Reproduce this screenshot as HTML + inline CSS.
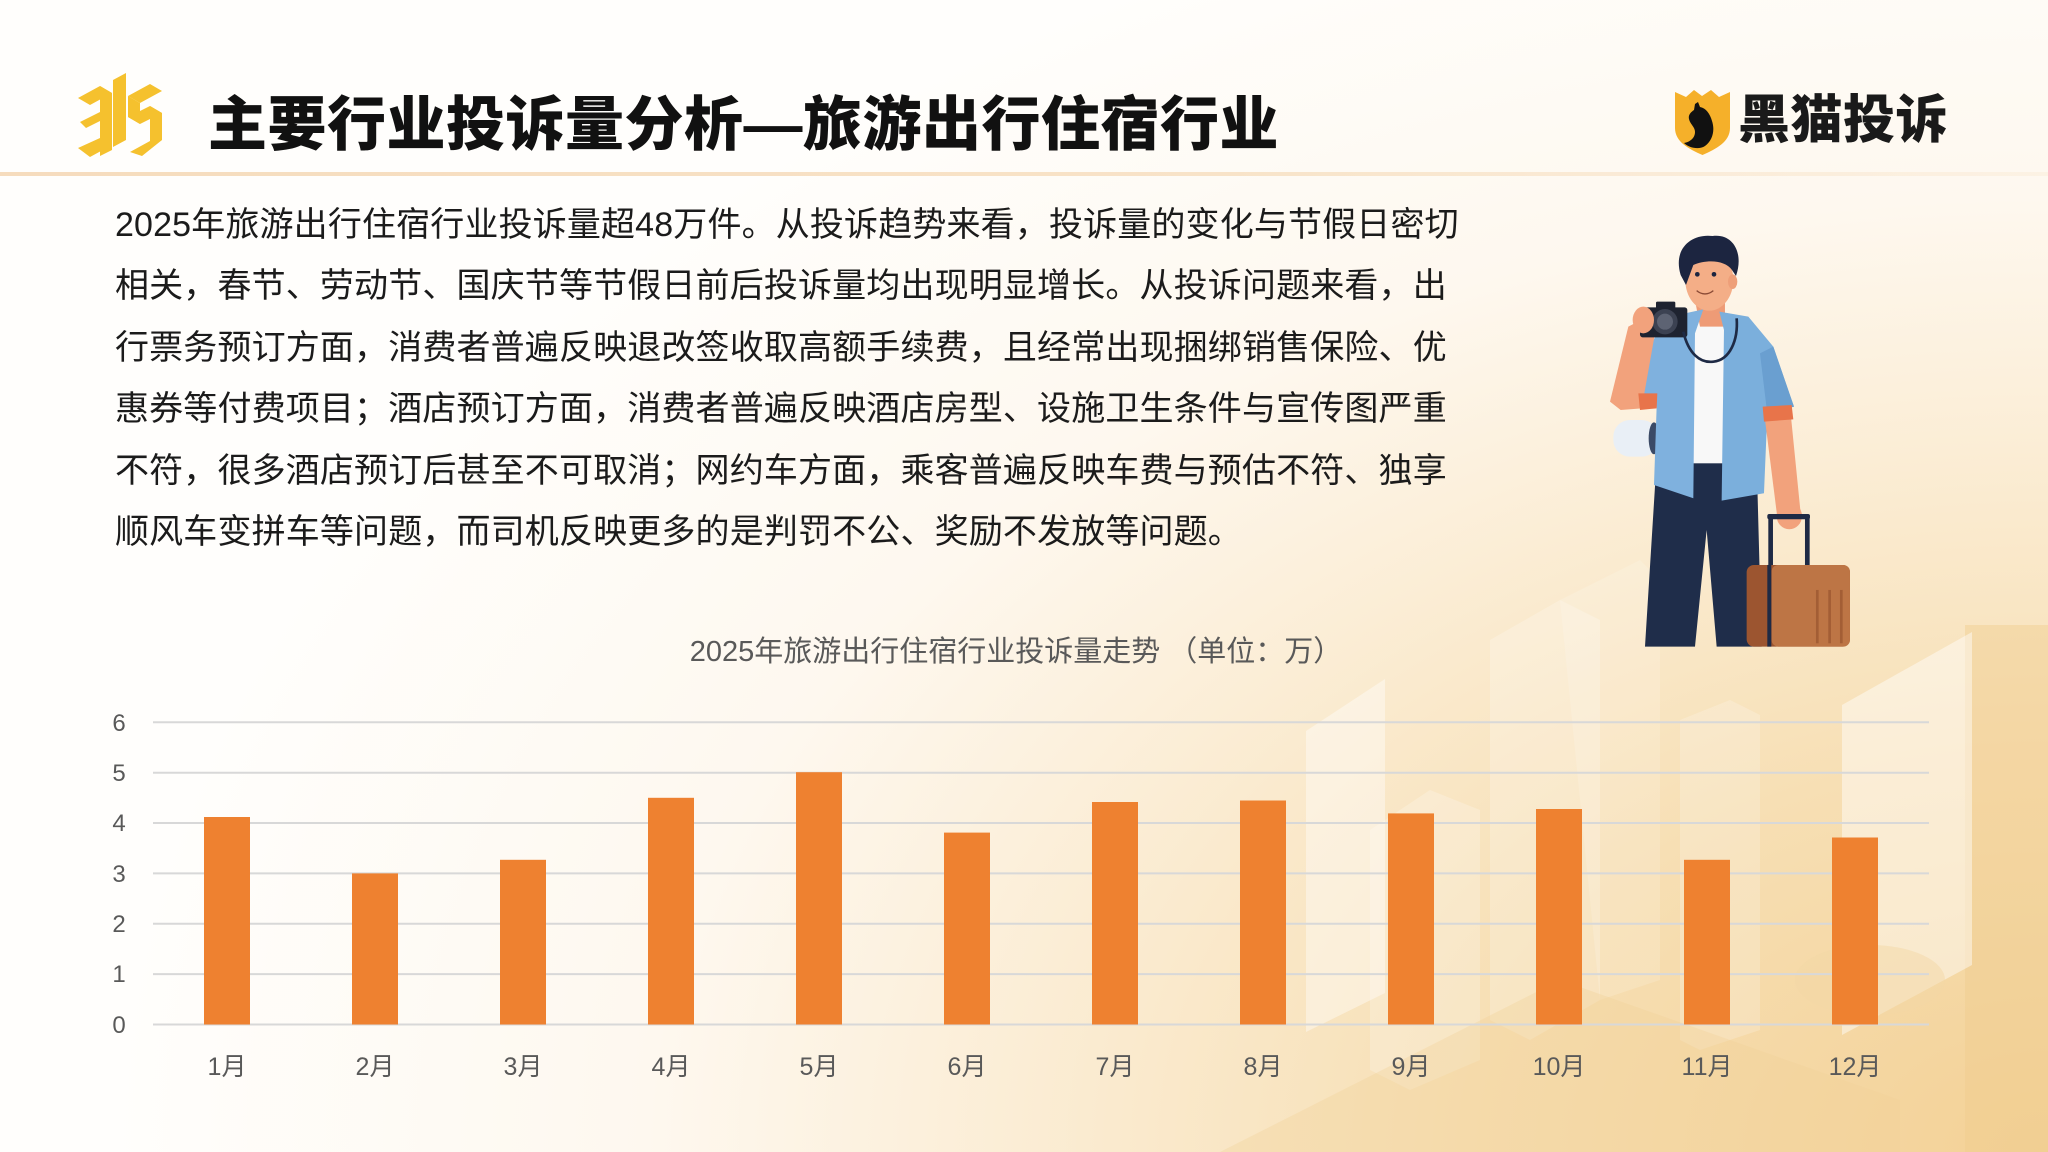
<!DOCTYPE html>
<html><head><meta charset="utf-8">
<style>
*{margin:0;padding:0;box-sizing:border-box}
html,body{width:2048px;height:1152px;overflow:hidden}
body{position:relative;font-family:"Liberation Sans","Noto Sans CJK SC",sans-serif;
background:radial-gradient(ellipse 95% 115% at 100% 100%, #f3d196 0%, #f7dfb4 30%, #fbedd5 53%, #fef8ef 72%, #fffefc 100%);}
.title{position:absolute;left:208px;top:88px;font-family:"Liberation Sans","Noto Sans CJK SC",sans-serif;font-weight:900;font-size:59px;line-height:74px;color:#111;letter-spacing:0.5px;white-space:nowrap}
.sep{position:absolute;left:0;top:172px;width:2048px;height:4px;background:linear-gradient(90deg,#f6dcbd,#f8e3c8 60%,rgba(248,227,200,0.3))}
.brand{position:absolute;left:1738px;top:88px;font-family:"Liberation Sans","Noto Sans CJK SC",sans-serif;font-weight:900;font-size:52px;line-height:66px;color:#1a1a1a;white-space:nowrap;letter-spacing:0.5px}
.para{position:absolute;left:115px;top:195px;font-size:34px;line-height:61.4px;color:#1b1b1b;white-space:nowrap;letter-spacing:0.15px;font-family:"Liberation Sans","Noto Sans CJK SC",sans-serif}
svg{position:absolute;left:0;top:0}
</style></head>
<body>
<svg width="2048" height="1152" viewBox="0 0 2048 1152">
  <!-- decorative background buildings -->
  <g>
    <rect x="1965" y="625" width="83" height="527" fill="#f0cc8e" opacity="0.45"/>
    <polygon points="1842,705 1972,632 1972,965 1842,1035" fill="#ffffff" opacity="0.45"/>
    <polygon points="1306,731 1385,679 1385,993 1306,1032" fill="#ffffff" opacity="0.4"/>
    <polygon points="1490,640 1560,600 1600,620 1600,1000 1530,1040 1490,1020" fill="#ffffff" opacity="0.22"/>
    <polygon points="1560,600 1640,560 1660,580 1660,980 1600,1000" fill="#ffffff" opacity="0.15"/>
    <polygon points="1370,830 1430,790 1480,810 1480,1060 1410,1090 1370,1070" fill="#ffffff" opacity="0.22"/>
    <polygon points="1680,720 1730,700 1760,715 1760,1030 1700,1050 1680,1040" fill="#ffffff" opacity="0.2"/>
    <polygon points="1220,1152 1560,980 1900,1100 1900,1152" fill="#f2d299" opacity="0.35"/>
    <ellipse cx="1870" cy="980" rx="75" ry="35" fill="#f3d7a6" opacity="0.5"/>
  </g>

  <!-- 315 logo -->
  <g fill="#f5c12e">
    <!-- 3 -->
    <polygon points="78,98 100,86 112,93 90,105"/>
    <polygon points="100,86 112,93 112,150 100,156"/>
    <polygon points="80,122 100,112 106,118 86,128"/>
    <polygon points="78,148 100,138 112,145 90,157"/>
    <!-- 1 -->
    <polygon points="113,80 126,73 126,140 113,147"/>
    <!-- 5 -->
    <polygon points="128,96 150,84 162,91 140,103"/>
    <polygon points="128,96 140,103 140,124 128,117"/>
    <polygon points="128,117 150,106 162,113 140,124"/>
    <polygon points="150,106 162,113 162,140 150,146"/>
    <polygon points="130,152 150,141 162,140 142,156"/>
  </g>

  <!-- black cat shield -->
  <g transform="translate(1675,88)">
    <path d="M0,4 L11,9 L19,2 L27,8 L36,2 L44,9 L55,4 L55,40 C55,54 41,61 27.5,67 C14,61 0,54 0,40 Z" fill="#f5b02a"/>
    <path d="M23,14 L25,19 C31,20 35,26 37,33 C40,42 38,52 30,58 C24,62 14,60 9,55 C15,54 20,50 20,44 C20,39 15,36 14,31 C13,27 16,24 19,22 L20,16 Z" fill="#111"/>
  </g>

  <!-- chart gridlines -->
  <g stroke="#d8d8d8" stroke-width="2">
    <line x1="153" y1="722.3" x2="1929" y2="722.3"/>
    <line x1="153" y1="772.7" x2="1929" y2="772.7"/>
    <line x1="153" y1="823.0" x2="1929" y2="823.0"/>
    <line x1="153" y1="873.4" x2="1929" y2="873.4"/>
    <line x1="153" y1="923.8" x2="1929" y2="923.8"/>
    <line x1="153" y1="974.1" x2="1929" y2="974.1"/>
    <line x1="153" y1="1024.5" x2="1929" y2="1024.5"/>
  </g>

  <!-- bars -->
  <g fill="#ee8130">
    <rect x="204" y="817.0" width="46" height="207.5"/>
    <rect x="352" y="873.4" width="46" height="151.1"/>
    <rect x="500" y="859.8" width="46" height="164.7"/>
    <rect x="648" y="797.8" width="46" height="226.7"/>
    <rect x="796" y="772.2" width="46" height="252.3"/>
    <rect x="944" y="832.6" width="46" height="191.9"/>
    <rect x="1092" y="802.0" width="46" height="222.5"/>
    <rect x="1240" y="800.5" width="46" height="224.0"/>
    <rect x="1388" y="813.4" width="46" height="211.1"/>
    <rect x="1536" y="809.0" width="46" height="215.5"/>
    <rect x="1684" y="859.8" width="46" height="164.7"/>
    <rect x="1832" y="837.5" width="46" height="187.0"/>
  </g>

  <!-- chart text -->
  <g font-family="Liberation Sans, Noto Sans CJK SC, sans-serif" fill="#595959">
    <text x="1016" y="661" font-size="29" text-anchor="middle">2025年旅游出行住宿行业投诉量走势 （单位：万）</text>
    <g font-size="24" text-anchor="middle">
      <text x="119" y="731">6</text>
      <text x="119" y="781">5</text>
      <text x="119" y="831">4</text>
      <text x="119" y="882">3</text>
      <text x="119" y="932">2</text>
      <text x="119" y="982">1</text>
      <text x="119" y="1033">0</text>
    </g>
    <g font-size="25" text-anchor="middle">
      <text x="227" y="1075">1月</text>
      <text x="375" y="1075">2月</text>
      <text x="523" y="1075">3月</text>
      <text x="671" y="1075">4月</text>
      <text x="819" y="1075">5月</text>
      <text x="967" y="1075">6月</text>
      <text x="1115" y="1075">7月</text>
      <text x="1263" y="1075">8月</text>
      <text x="1411" y="1075">9月</text>
      <text x="1559" y="1075">10月</text>
      <text x="1707" y="1075">11月</text>
      <text x="1855" y="1075">12月</text>
    </g>
  </g>

  <!-- traveler illustration -->
  <g transform="translate(1560,220) scale(0.3333)">
    <rect x="160" y="600" width="135" height="110" rx="50" fill="#e9eff6"/>
    <ellipse cx="282" cy="655" rx="16" ry="48" fill="#3b4a66"/>
    <polygon points="290,720 590,720 605,1280 470,1280 440,930 405,1280 255,1280" fill="#1f2d4a"/>
    <rect x="385" y="310" width="110" height="420" fill="#f8f8f8"/>
    <polygon points="405,240 495,240 495,320 420,320" fill="#ee9b76"/>
    <polygon points="330,290 430,268 405,340 400,835 282,795 290,560 245,560 252,420 300,320" fill="#7fb1de"/>
    <polygon points="478,275 565,290 640,380 702,560 622,582 612,820 485,842 492,330" fill="#7bafdc"/>
    <polygon points="600,400 640,380 702,560 622,582" fill="#6a9fd0"/>
    <polygon points="182,570 150,545 205,320 262,290 285,340 245,565" fill="#f2a27c"/>
    <polygon points="235,520 292,520 290,565 240,570" fill="#e8744a"/>
    <rect x="240" y="262" width="142" height="90" rx="8" fill="#1e2330"/>
    <rect x="288" y="245" width="58" height="22" rx="4" fill="#1e2330"/>
    <circle cx="315" cy="305" r="38" fill="#3c4252"/>
    <circle cx="315" cy="305" r="24" fill="#5d6373"/>
    <ellipse cx="250" cy="300" rx="32" ry="40" fill="#f2a27c"/>
    <path d="M370,335 C385,400 420,430 460,425 C510,420 535,360 530,295" fill="none" stroke="#1e2a45" stroke-width="8"/>
    <polygon points="612,575 690,560 722,880 652,892" fill="#f2a27c"/>
    <polygon points="608,560 695,555 700,598 612,605" fill="#e8744a"/>
    <ellipse cx="688" cy="888" rx="38" ry="40" fill="#f2a27c"/>
    <ellipse cx="448" cy="180" rx="72" ry="92" fill="#f4ae87"/>
    <ellipse cx="518" cy="185" rx="14" ry="22" fill="#ee9f79"/>
    <path d="M362,165 C338,85 395,40 458,48 C520,40 552,100 528,168 L516,150 C495,120 440,118 400,135 L378,195 Z" fill="#1c2540"/>
    <circle cx="412" cy="163" r="7" fill="#1c2540"/>
    <circle cx="462" cy="163" r="7" fill="#1c2540"/>
    <path d="M410,212 C425,225 445,225 460,212" fill="none" stroke="#8a4a35" stroke-width="4"/>
    <rect x="625" y="885" width="14" height="160" fill="#1e2a45"/>
    <rect x="735" y="885" width="14" height="160" fill="#1e2a45"/>
    <rect x="622" y="882" width="128" height="16" rx="6" fill="#1e2a45"/>
    <rect x="560" y="1035" width="310" height="245" rx="22" fill="#9c5530"/>
    <rect x="635" y="1035" width="235" height="245" rx="20" fill="#bd7545"/>
    <rect x="622" y="1035" width="12" height="245" fill="#1e2a45"/>
    <rect x="768" y="1110" width="8" height="160" fill="#a35e35"/>
    <rect x="805" y="1110" width="8" height="160" fill="#a35e35"/>
    <rect x="840" y="1110" width="8" height="160" fill="#a35e35"/>
  </g>
</svg>

<div class="title">主要行业投诉量分析—旅游出行住宿行业</div>
<div class="sep"></div>
<div class="brand">黑猫投诉</div>

<div class="para">
2025年旅游出行住宿行业投诉量超48万件。从投诉趋势来看，投诉量的变化与节假日密切<br>
相关，春节、劳动节、国庆节等节假日前后投诉量均出现明显增长。从投诉问题来看，出<br>
行票务预订方面，消费者普遍反映退改签收取高额手续费，且经常出现捆绑销售保险、优<br>
惠券等付费项目；酒店预订方面，消费者普遍反映酒店房型、设施卫生条件与宣传图严重<br>
不符，很多酒店预订后甚至不可取消；网约车方面，乘客普遍反映车费与预估不符、独享<br>
顺风车变拼车等问题，而司机反映更多的是判罚不公、奖励不发放等问题。
</div>
</body></html>
